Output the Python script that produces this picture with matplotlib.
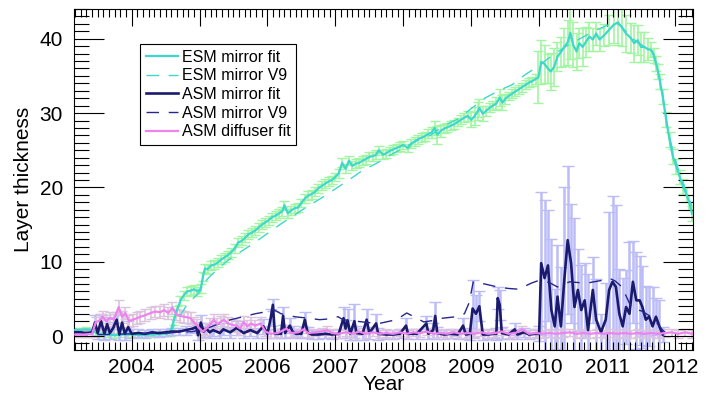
import matplotlib
matplotlib.use("Agg")
import matplotlib.pyplot as plt
from matplotlib.ticker import MultipleLocator

plt.rcParams['font.family'] = ['Liberation Sans', 'DejaVu Sans']

# ------------------------------------------------------------
# colours
# ------------------------------------------------------------
c_esm = "#3ED8CB"
c_esm_err = "#A2F5A2"
c_asm = "#1A1A6E"
c_asm_v9 = "#26268C"
c_asm_err = "#BCBCF8"
c_dif = "#EE82EE"
c_dif_err = "#DCC4DC"

# ------------------------------------------------------------
# ESM mirror fit
# ------------------------------------------------------------
esm_t = [
    2003.17, 2003.25, 2003.33, 2003.42, 2003.48, 2003.55, 2003.65, 2003.75, 2003.85, 2003.95,
    2004.05, 2004.15, 2004.25, 2004.35, 2004.45, 2004.52, 2004.57, 2004.62, 2004.67, 2004.72,
    2004.77, 2004.82, 2004.87, 2004.92, 2004.97, 2005.02, 2005.05, 2005.08, 2005.12, 2005.17,
    2005.22, 2005.27, 2005.32, 2005.37, 2005.42, 2005.47, 2005.52, 2005.57, 2005.62, 2005.67,
    2005.72, 2005.77, 2005.82, 2005.87, 2005.92, 2005.97, 2006.02, 2006.07, 2006.12, 2006.17,
    2006.22, 2006.25, 2006.30, 2006.35, 2006.40, 2006.45, 2006.50, 2006.55, 2006.60, 2006.65,
    2006.70, 2006.75, 2006.80, 2006.85, 2006.90, 2006.95, 2007.00, 2007.05, 2007.10, 2007.15,
    2007.20, 2007.25, 2007.30, 2007.35, 2007.40, 2007.45, 2007.50, 2007.55, 2007.60, 2007.64,
    2007.70, 2007.75, 2007.80, 2007.85, 2007.90, 2007.95, 2008.00, 2008.07, 2008.12, 2008.17,
    2008.22, 2008.27, 2008.32, 2008.37, 2008.42, 2008.46, 2008.50, 2008.55, 2008.60, 2008.65,
    2008.70, 2008.75, 2008.80, 2008.85, 2008.90, 2008.95, 2009.00, 2009.05, 2009.10, 2009.12,
    2009.17, 2009.22, 2009.27, 2009.32, 2009.37, 2009.42, 2009.46, 2009.50, 2009.55, 2009.60,
    2009.65, 2009.70, 2009.75, 2009.80, 2009.85, 2009.90, 2009.95, 2009.99, 2010.03, 2010.08,
    2010.13, 2010.17, 2010.22, 2010.27, 2010.32, 2010.37, 2010.42, 2010.46, 2010.50, 2010.55,
    2010.59, 2010.64, 2010.69, 2010.74, 2010.79, 2010.84, 2010.89, 2010.96, 2011.03, 2011.10,
    2011.16, 2011.22, 2011.28, 2011.35, 2011.40, 2011.45, 2011.50, 2011.55, 2011.60, 2011.65,
    2011.69, 2011.72, 2011.75, 2011.78, 2011.82, 2011.87, 2011.92, 2011.97, 2012.02, 2012.07,
    2012.12, 2012.17, 2012.21, 2012.25,
]
esm_y = [
    0.8, 0.8, 0.9, 0.8, 0.4, 0.2, 0.2, 0.1, 0.2, 0.2,
    0.2, 0.1, 0.2, 0.2, 0.3, 0.3, 0.5, 2.1, 3.5, 4.8,
    5.5, 6.0, 6.1, 6.3, 6.0, 6.4, 8.0, 9.1, 9.0, 9.5,
    9.6, 9.9, 10.3, 10.6, 10.9, 11.3, 11.8, 12.6, 12.8, 13.2,
    13.7, 13.9, 14.2, 14.6, 15.0, 15.3, 15.6, 16.0, 16.2, 16.5,
    16.8, 17.6, 16.5, 16.9, 17.2, 17.3, 17.9, 18.5, 18.9, 19.1,
    19.4, 19.9, 20.2, 20.5, 20.8, 21.0, 21.4, 21.9, 23.3, 22.5,
    23.6, 22.9, 23.2, 23.3, 23.6, 23.8, 24.1, 24.2, 24.4, 25.0,
    24.4, 24.6, 24.9, 25.1, 25.3, 25.5, 25.7, 25.3, 25.9, 26.2,
    26.5, 26.7, 26.9, 27.2, 27.4, 28.0, 27.1, 27.6, 27.9, 28.1,
    28.3, 28.5, 28.8, 29.1, 29.4, 29.6, 29.1, 29.6, 30.3, 30.7,
    29.9, 30.3, 30.7, 31.0, 31.3, 32.1, 31.4, 31.9, 32.3, 32.6,
    32.9, 33.2, 33.5, 33.8, 34.1, 34.3, 34.6, 34.8, 36.9, 36.6,
    36.0, 35.6, 36.2, 37.6, 38.2, 38.9, 39.5, 40.8, 39.2, 38.3,
    39.4, 38.9, 39.6, 40.3, 39.9, 40.7, 39.9, 40.5, 41.2, 41.9,
    42.2, 41.5, 40.7, 40.1, 39.4, 39.8, 38.9, 38.9, 38.6, 38.5,
    37.8, 36.7, 35.6, 34.2, 32.2, 29.1, 26.4, 24.1, 22.8, 21.4,
    20.1, 19.0, 18.0, 16.5,
]
esm_err = [
    0.3, 0.3, 0.3, 0.3, 0.3, 0.3, 0.3, 0.3, 0.3, 0.3,
    0.3, 0.3, 0.3, 0.3, 0.3, 0.3, 0.5, 0.6, 0.6, 0.6,
    0.6, 0.6, 0.6, 0.6, 0.6, 0.6, 0.6, 0.6, 0.6, 0.6,
    0.6, 0.6, 0.6, 0.6, 0.6, 0.6, 0.6, 0.6, 0.6, 0.6,
    0.6, 0.6, 0.6, 0.6, 0.6, 0.6, 0.6, 0.6, 0.6, 0.6,
    0.6, 0.6, 0.6, 0.6, 0.6, 0.6, 0.6, 0.6, 0.6, 0.6,
    0.6, 0.6, 0.6, 0.6, 0.6, 0.6, 0.6, 0.6, 0.6, 0.6,
    0.6, 0.6, 0.6, 0.6, 0.6, 0.6, 0.6, 0.6, 0.6, 0.6,
    0.6, 0.6, 0.6, 0.6, 0.6, 0.6, 0.6, 0.6, 0.6, 0.6,
    0.6, 0.6, 0.6, 0.6, 0.7, 1.0, 1.2, 0.8, 0.6, 0.6,
    0.6, 0.6, 0.6, 0.6, 0.6, 0.7, 1.0, 1.2, 1.2, 1.2,
    1.0, 0.7, 0.6, 0.6, 0.8, 1.2, 1.0, 0.7, 0.6, 0.6,
    0.6, 0.6, 0.6, 0.6, 0.6, 0.6, 0.7, 3.5, 3.0, 2.5,
    2.0, 2.5, 2.5, 2.0, 2.0, 2.5, 3.0, 3.5, 3.0, 2.5,
    2.0, 2.5, 2.0, 2.0, 1.5, 1.5, 1.5, 1.5, 2.0, 2.5,
    3.0, 2.5, 2.5, 2.0, 2.5, 2.0, 2.0, 2.0, 1.5, 1.0,
    1.0, 1.0, 1.0, 1.0, 1.0, 1.0, 1.0, 1.0, 1.0, 1.0,
    1.0, 1.0, 1.0, 1.0,
]

# ESM mirror V9
esm_v9_t = [
    2004.52, 2004.60, 2004.70, 2004.80, 2004.90, 2005.00, 2005.08, 2005.15, 2005.30, 2005.45,
    2005.60, 2005.80, 2006.00, 2006.20, 2006.40, 2006.60, 2006.80, 2007.00, 2007.20, 2007.40,
    2007.60, 2007.80, 2008.00, 2008.20, 2008.40, 2008.60, 2008.80, 2009.00, 2009.20, 2009.40,
    2009.60, 2009.80, 2010.00, 2010.20, 2010.40, 2010.60, 2010.80, 2011.00, 2011.10, 2011.20,
    2011.35, 2011.50, 2011.65, 2011.72, 2011.80, 2011.90, 2012.00, 2012.10, 2012.25,
]
esm_v9_y = [
    0.2, 1.0, 2.5, 4.0, 5.0, 5.9, 7.3, 8.0, 9.3, 10.4,
    11.3, 12.5, 13.8, 15.1, 16.3, 17.5, 18.6, 19.8, 21.0, 22.3,
    23.2, 24.3, 25.3, 26.3, 27.0, 28.3, 29.2, 30.6, 32.0, 33.0,
    33.8, 35.2, 36.4, 37.8, 39.0, 40.0, 41.0, 41.8, 42.2, 41.8,
    40.2, 39.2, 38.6, 36.8, 33.5, 27.5, 23.8, 21.0, 17.5,
]

# ------------------------------------------------------------
# ASM mirror fit
# ------------------------------------------------------------
asm_t = [
    2003.17, 2003.25, 2003.33, 2003.42, 2003.46, 2003.50, 2003.55, 2003.60, 2003.64, 2003.68,
    2003.73, 2003.78, 2003.82, 2003.86, 2003.90, 2003.95, 2004.00, 2004.10, 2004.20, 2004.30,
    2004.40, 2004.50, 2004.60, 2004.70, 2004.80, 2004.90, 2004.95, 2004.98, 2005.02, 2005.06,
    2005.10, 2005.15, 2005.20, 2005.30, 2005.35, 2005.45, 2005.55, 2005.65, 2005.75, 2005.85,
    2005.94, 2006.00, 2006.05, 2006.08, 2006.11, 2006.20, 2006.23, 2006.26, 2006.33, 2006.37,
    2006.42, 2006.50, 2006.55, 2006.59, 2006.65, 2006.75, 2006.85, 2006.95, 2007.05, 2007.12,
    2007.15, 2007.18, 2007.22, 2007.28, 2007.31, 2007.40, 2007.46, 2007.50, 2007.60, 2007.63,
    2007.75, 2007.85, 2007.95, 2008.04, 2008.07, 2008.20, 2008.34, 2008.37, 2008.44, 2008.47,
    2008.50, 2008.60, 2008.70, 2008.80, 2008.88, 2008.92, 2008.98, 2009.02, 2009.07, 2009.12,
    2009.17, 2009.25, 2009.33, 2009.37, 2009.39, 2009.42, 2009.45, 2009.55, 2009.64, 2009.68,
    2009.78, 2009.85, 2009.95, 2010.00, 2010.03, 2010.08, 2010.13, 2010.18, 2010.23, 2010.27,
    2010.32, 2010.37, 2010.42, 2010.47, 2010.52, 2010.57, 2010.62, 2010.67, 2010.72, 2010.79,
    2010.84, 2010.91, 2010.98, 2011.03, 2011.08, 2011.13, 2011.18, 2011.23, 2011.28, 2011.33,
    2011.38, 2011.43, 2011.48, 2011.52, 2011.57, 2011.62, 2011.67, 2011.72, 2011.77, 2011.82,
]
asm_y = [
    0.5, 0.5, 0.4, 0.5, 1.8, 0.4, 2.0, 0.3, 1.6, 0.4,
    1.1, 2.2, 0.2, 1.8, 0.3, 1.2, 0.3, 0.4, 0.3, 0.5,
    0.4, 0.5, 0.6, 0.6, 0.8, 1.0, 1.2, 0.1, 1.8, 0.6,
    1.0, 0.5, 0.8, 0.4, 0.9, 0.5, 1.1, 0.4, 0.8, 0.4,
    1.3, 0.3, 2.5, 4.2, 0.3, 0.3, 2.7, 0.4, 1.4, 0.6,
    0.3, 0.3, 2.2, 0.5, 0.2, 0.2, 0.3, 0.2, 0.3, 2.4,
    1.0, 2.1, 0.3, 2.0, 0.4, 0.3, 2.2, 0.4, 1.7, 0.3,
    0.2, 0.2, 0.3, 1.4, 0.3, 0.3, 1.7, 0.3, 0.8, 2.7,
    0.4, 0.2, 0.3, 0.2, 1.4, 0.2, 0.3, 3.7, 3.0, 4.0,
    0.2, 0.2, 0.3, 0.3, 5.1, 4.2, 0.4, 0.2, 0.9, 0.2,
    0.5, 0.2, 0.3, 0.3, 9.8, 7.8, 9.5, 3.5, 1.3, 5.3,
    1.3, 7.5, 12.9, 9.8, 3.9, 6.2, 3.5, 4.8, 0.8, 6.2,
    2.2, 0.5, 2.2, 6.2, 7.3, 6.6, 3.0, 1.3, 3.9, 3.0,
    7.3, 4.8, 4.8, 3.9, 2.2, 2.6, 1.3, 2.6, 1.3, 0.2,
]
asm_err = [
    0.5, 0.5, 0.5, 0.5, 1.0, 0.8, 1.0, 0.8, 1.0, 0.8,
    0.8, 1.0, 0.8, 1.0, 0.8, 0.8, 0.6, 0.5, 0.5, 0.5,
    0.5, 0.5, 0.5, 0.5, 0.6, 0.6, 0.7, 0.6, 1.0, 0.7,
    0.8, 0.7, 0.8, 0.7, 0.8, 0.7, 0.9, 0.7, 0.8, 0.7,
    1.0, 0.6, 1.2, 0.8, 0.6, 0.6, 1.2, 0.7, 1.0, 0.7,
    0.6, 0.6, 1.0, 0.7, 0.6, 0.6, 0.6, 0.6, 0.6, 1.5,
    1.2, 1.5, 0.8, 2.3, 1.0, 0.8, 1.5, 0.8, 1.2, 0.8,
    0.6, 0.6, 0.6, 1.0, 0.7, 0.7, 1.0, 0.7, 1.0, 1.9,
    0.8, 0.6, 0.6, 0.6, 1.0, 0.6, 0.8, 3.8, 2.5, 2.0,
    0.8, 0.6, 0.6, 0.8, 1.5, 2.0, 0.8, 0.6, 0.8, 0.6,
    0.6, 0.6, 0.6, 1.0, 9.6, 10.5, 7.5, 9.5, 5.0, 7.0,
    8.0, 12.6, 10.0, 8.0, 12.0, 5.5, 6.0, 5.0, 7.5, 4.5,
    5.5, 2.5, 5.0, 10.5, 11.5, 11.0, 6.0, 6.5, 5.0, 9.7,
    5.5, 6.5, 6.0, 5.5, 4.5, 4.0, 5.3, 2.5, 3.5, 1.0,
]

# ASM mirror V9
asm_v9_t = [
    2003.17, 2003.60, 2004.00, 2004.50, 2004.90, 2005.10, 2005.30, 2005.46, 2005.60, 2005.82,
    2006.00, 2006.08, 2006.20, 2006.40, 2006.60, 2006.77, 2006.90, 2007.04, 2007.11, 2007.30,
    2007.50, 2007.65, 2007.90, 2008.05, 2008.20, 2008.30, 2008.45, 2008.58, 2008.78, 2008.90,
    2008.97, 2009.03, 2009.20, 2009.39, 2009.55, 2009.70, 2009.88, 2010.00, 2010.15, 2010.27,
    2010.45, 2010.69, 2010.93, 2011.03, 2011.12, 2011.22, 2011.33, 2011.40, 2011.50, 2011.65,
    2011.72, 2011.80, 2011.85,
]
asm_v9_y = [
    0.2, 0.2, 0.3, 0.4, 0.6, 1.0, 1.7, 2.2, 2.5, 3.0,
    3.3, 3.6, 3.0, 2.6, 2.4, 2.2, 2.3, 2.6, 2.2, 2.0,
    1.8, 1.7, 2.2, 3.1, 2.4, 1.9, 2.1, 2.4, 2.6, 3.0,
    4.5, 7.3, 7.0, 6.6, 6.4, 6.3, 7.1, 7.5, 7.2, 6.6,
    7.3, 7.1, 7.5, 7.8, 7.4, 6.6, 4.4, 3.6, 3.4, 2.6,
    1.9, 1.0, 0.5,
]

# ------------------------------------------------------------
# ASM diffuser fit
# ------------------------------------------------------------
dif_t = [
    2003.17, 2003.30, 2003.42, 2003.47, 2003.54, 2003.58, 2003.62, 2003.68, 2003.74, 2003.81,
    2003.86, 2003.91, 2003.96, 2004.02, 2004.08, 2004.13, 2004.20, 2004.28, 2004.35, 2004.42,
    2004.48, 2004.54, 2004.60, 2004.66, 2004.72, 2004.77, 2004.83, 2004.87, 2004.92, 2004.96,
    2005.01, 2005.05, 2005.10, 2005.16, 2005.21, 2005.26, 2005.31, 2005.36, 2005.42, 2005.48,
    2005.54, 2005.60, 2005.65, 2005.70, 2005.76, 2005.82, 2005.90, 2005.97, 2006.05, 2006.15,
    2006.28, 2006.35, 2006.45, 2006.53, 2006.60, 2006.70, 2006.80, 2006.88, 2006.95, 2007.05,
    2007.15, 2007.25, 2007.35, 2007.45, 2007.55, 2007.65, 2007.75, 2007.85, 2007.95, 2008.05,
    2008.15, 2008.25, 2008.35, 2008.45, 2008.55, 2008.65, 2008.75, 2008.85, 2008.95, 2009.05,
    2009.15, 2009.25, 2009.35, 2009.45, 2009.55, 2009.65, 2009.75, 2009.85, 2009.95, 2010.05,
    2010.15, 2010.25, 2010.35, 2010.45, 2010.55, 2010.65, 2010.75, 2010.85, 2010.95, 2011.05,
    2011.15, 2011.25, 2011.35, 2011.45, 2011.55, 2011.65, 2011.75, 2011.85, 2011.95, 2012.05,
    2012.15, 2012.25,
]
dif_y = [
    0.2, 0.2, 0.3, 1.8, 2.2, 2.6, 2.0, 2.4, 2.2, 3.9,
    2.6, 3.1, 2.0, 2.2, 2.4, 2.6, 2.8, 3.1, 3.3, 3.2,
    3.5, 3.1, 3.8, 2.9, 2.7, 2.6, 2.5, 2.4, 1.8, 1.5,
    0.9, 0.6, 1.0, 1.6, 2.2, 1.6, 1.9, 2.2, 1.7, 1.5,
    1.4, 1.0, 1.9, 1.3, 1.7, 1.4, 1.7, 0.6, 0.3, 0.4,
    1.0, 0.4, 0.5, 0.9, 0.4, 0.5, 0.6, 0.8, 0.4, 0.3,
    0.5, 0.3, 0.6, 0.3, 0.5, 0.3, 0.4, 0.3, 0.5, 0.3,
    0.5, 0.4, 0.6, 0.3, 0.4, 0.3, 0.5, 0.3, 0.4, 0.3,
    0.5, 0.3, 0.4, 0.6, 0.3, 0.4, 0.9, 0.3, 0.4, 0.3,
    0.4, 0.3, 0.4, 0.5, 0.3, 0.4, 0.3, 0.4, 0.3, 0.4,
    0.3, 0.4, 0.3, 0.4, 0.3, 0.4, 0.3, 0.4, 0.5, 0.3,
    0.5, 0.3,
]
dif_err = [
    0.3, 0.3, 0.4, 0.8, 0.8, 0.8, 0.8, 0.8, 0.8, 0.9,
    0.8, 0.8, 0.8, 0.8, 0.8, 0.8, 0.8, 0.8, 0.8, 0.8,
    0.8, 0.8, 0.8, 0.8, 0.8, 0.8, 0.8, 0.8, 0.8, 0.8,
    0.8, 0.8, 0.8, 0.8, 0.8, 0.8, 0.8, 0.8, 0.8, 0.8,
    0.8, 0.8, 0.8, 0.8, 0.8, 0.8, 0.8, 0.6, 0.5, 0.5,
    0.5, 0.5, 0.5, 0.5, 0.5, 0.5, 0.5, 0.5, 0.5, 0.5,
    0.5, 0.5, 0.5, 0.5, 0.5, 0.5, 0.5, 0.5, 0.5, 0.5,
    0.5, 0.5, 0.5, 0.5, 0.5, 0.5, 0.5, 0.5, 0.5, 0.5,
    0.5, 0.5, 0.5, 0.5, 0.5, 0.5, 0.5, 0.5, 0.5, 0.5,
    0.5, 0.5, 0.5, 0.5, 0.5, 0.5, 0.5, 0.5, 0.5, 0.5,
    0.5, 0.5, 0.5, 0.5, 0.5, 0.5, 0.5, 0.5, 0.5, 0.5,
    0.5, 0.5,
]

years = [2004, 2005, 2006, 2007, 2008, 2009, 2010, 2011, 2012]
y_ticks = [0, 10, 20, 30, 40]

# ------------------------------------------------------------
# Plot
# ------------------------------------------------------------
fig = plt.figure(figsize=(7.06, 3.99), dpi=100)
ax = fig.add_axes([0.1048, 0.1228, 0.8763, 0.8553])

ax.errorbar(esm_t, esm_y, yerr=esm_err, fmt='none', ecolor=c_esm_err,
            elinewidth=1.2, capsize=3.5, capthick=1.0, zorder=1)
ax.errorbar(asm_t, asm_y, yerr=asm_err, fmt='none', ecolor=c_asm_err,
            elinewidth=1.8, capsize=4, capthick=1.0, zorder=1)
ax.errorbar(dif_t, dif_y, yerr=dif_err, fmt='none', ecolor=c_dif_err,
            elinewidth=1.2, capsize=3.5, capthick=1.0, zorder=1.5)

ax.plot(esm_t, esm_y, color=c_esm, lw=1.6, label="ESM mirror fit", zorder=3)
ax.plot(esm_v9_t, esm_v9_y, color=c_esm, lw=1.0, dashes=(9, 7),
        label="ESM mirror V9", zorder=3)
ax.plot(asm_t, asm_y, color=c_asm, lw=1.9, label="ASM mirror fit", zorder=3)
ax.plot(asm_v9_t, asm_v9_y, color=c_asm_v9, lw=1.0, dashes=(9, 7),
        label="ASM mirror V9", zorder=3)
ax.plot(dif_t, dif_y, color=c_dif, lw=1.6, label="ASM diffuser fit", zorder=4)

ax.set_xlim(2003.152, 2012.26)
ax.set_ylim(-1.88, 44.04)

ax.set_xticks(years)
ax.set_xticklabels([str(y) for y in years])
ax.set_yticks(y_ticks)
ax.xaxis.set_minor_locator(MultipleLocator(1 / 12))
ax.yaxis.set_minor_locator(MultipleLocator(1))

ax.xaxis.set_tick_params(which='major', direction='in', length=12, width=0.8,
                         top=True, bottom=True, labelsize=15, pad=6)
ax.xaxis.set_tick_params(which='minor', direction='in', length=6, width=0.8,
                         top=True, bottom=True)
ax.yaxis.set_tick_params(which='major', direction='in', length=21.5, width=0.8,
                         left=True, right=True, labelsize=15, pad=8)
ax.yaxis.set_tick_params(which='minor', direction='in', length=11, width=0.8,
                         left=True, right=True)
for sp in ax.spines.values():
    sp.set_linewidth(0.8)

ax.set_xlabel("Year", fontsize=15, labelpad=-2)
ax.set_ylabel("Layer thickness", fontsize=15, labelpad=5)

leg = ax.legend(loc='upper left', bbox_to_anchor=(0.106, 0.898), fontsize=11.5,
                frameon=True, fancybox=False, edgecolor='black', framealpha=1,
                handlelength=2.0, handletextpad=0.25, labelspacing=0.23,
                borderpad=0.38, borderaxespad=0)
leg.get_frame().set_linewidth(0.8)

fig.savefig("out.png", dpi=100)
